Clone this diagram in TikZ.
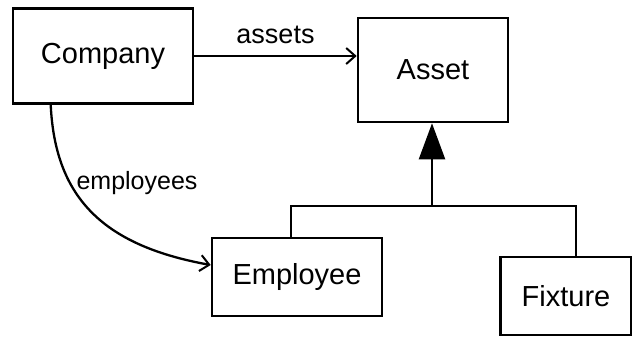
\documentclass[tikz,border=0pt]{standalone}
\usepackage{fontspec}
\setmainfont{Liberation Sans}
\usetikzlibrary{arrows.meta}
\begin{document}
\begin{tikzpicture}[x=1pt,y=-1pt,
  cls/.style={draw,line width=2.6pt,rectangle,inner sep=0pt,font=\fontsize{29}{31}\selectfont},
  lbl/.style={font=\fontsize{25}{27}\selectfont,inner sep=0pt},
  conn/.style={line width=2.3pt},
  assoc/.style={conn,-{Straight Barb[length=9pt,width=16pt,line width=2pt]}},
  inherit/.style={conn,-{Triangle[length=36pt,width=26pt]}}]
\useasboundingbox (0,0) rectangle (632,341);
\node[cls,minimum width=180pt,minimum height=95pt] (company) at (103,56) {Company};
\node[cls,minimum width=150pt,minimum height=104pt] (asset) at (433,70) {Asset};
\node[cls,minimum width=170pt,minimum height=78pt] (employee) at (297,277) {Employee};
\node[cls,minimum width=131pt,minimum height=78pt] (fixture) at (566,296) {Fixture};
\draw[assoc] (company.east) -- (company.east -| asset.west)
  node[lbl,font=\fontsize{27}{29}\selectfont,midway,above=11pt] (assetslbl) {assets};
\draw[assoc] ([xshift=39pt]company.south west) .. controls (55,195) and (100,245) .. ([yshift=12pt]employee.west);
\node[lbl] (emplbl) at (137,183) {employees};
\coordinate (j) at (432,206);
\draw[conn] ([xshift=-6pt]employee.north) |- (j) -| ([xshift=10pt]fixture.north);
\draw[inherit] (j) -- (j |- asset.south);
\end{tikzpicture}
\end{document}
